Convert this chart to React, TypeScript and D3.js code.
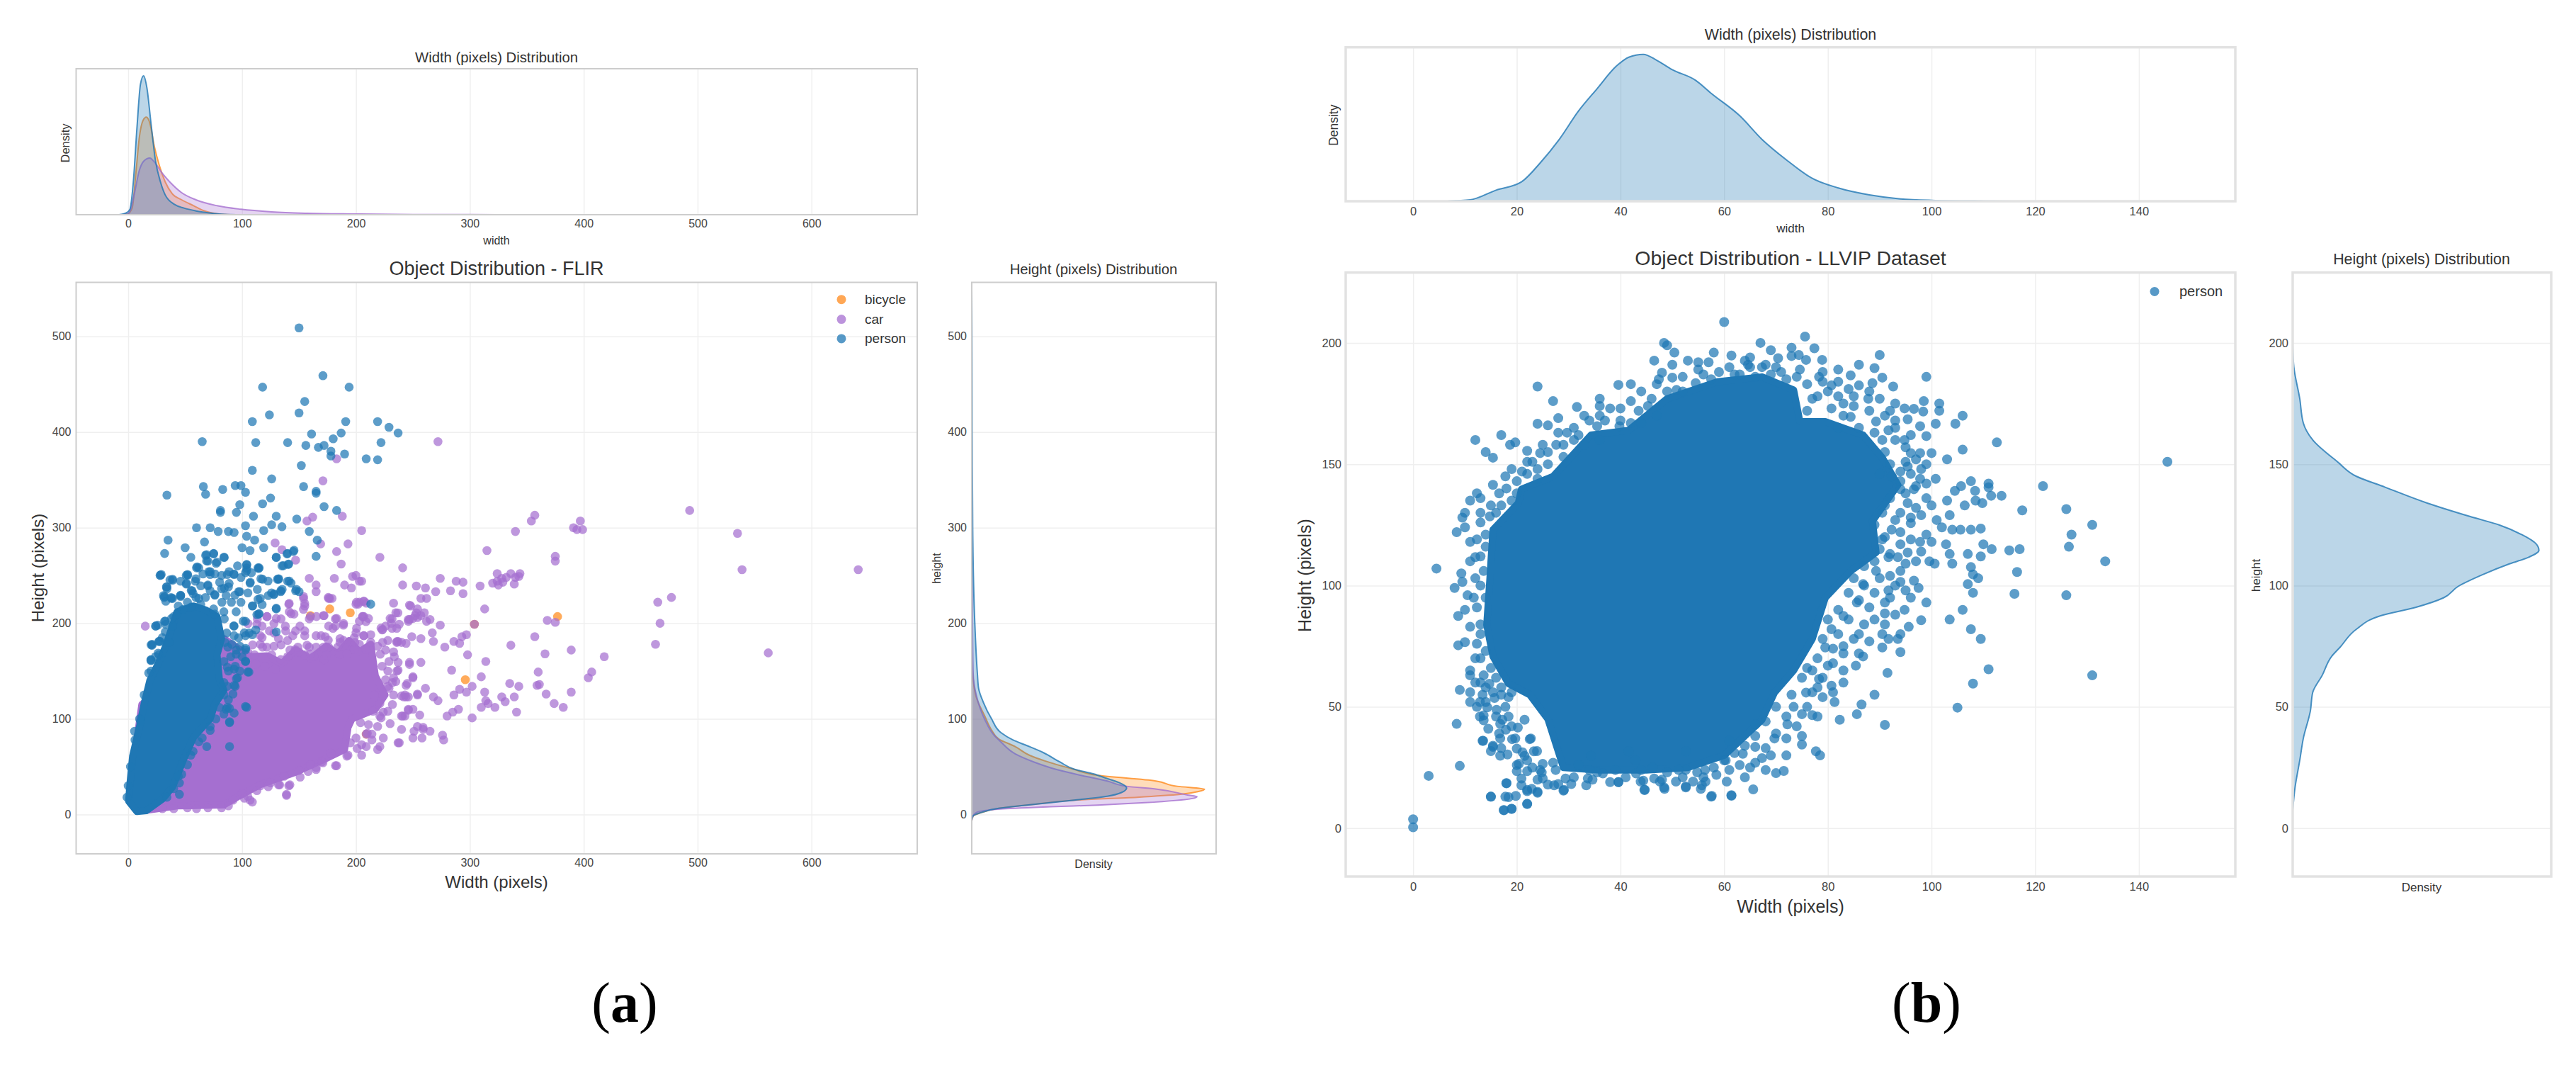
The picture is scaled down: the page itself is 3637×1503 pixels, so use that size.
import { useEffect, useRef } from 'react';
import * as d3 from 'd3';

type Pt = [number, number];

// KDE panels have no density ticks in the picture, so curve heights are in relative units read off the plot.
const flirWidthPerson: Pt[] = [[-8, 0], [-1.7, 8], [1.5, 23], [4.5, 138], [7.7, 368], [10.8, 553], [13.5, 588], [16.4, 538], [20, 388], [24, 228], [28.4, 138], [32.6, 83], [40.9, 43], [49, 28], [59.5, 16], [70, 8], [82, 2], [95, 0]];
const flirWidthBicycle: Pt[] = [[-5, 0], [-0.6, 3], [3.5, 28], [6.6, 168], [9.8, 328], [12.9, 398], [16, 413], [19, 388], [23, 288], [27.4, 208], [32.6, 138], [38.8, 88], [47, 63], [57.5, 38], [66, 18], [78, 4], [90, 0]];
const flirWidthCar: Pt[] = [[-6, 0], [-0.6, 3], [2.5, 28], [5.6, 93], [9.8, 188], [13.9, 228], [19, 240], [23, 223], [29.5, 178], [36.7, 138], [47, 93], [59.5, 63], [78, 38], [99, 23], [126, 12], [157, 6], [198, 3], [250, 1], [300, 0.5], [350, 0]];

const flirHeightBicycle: Pt[] = [[-6.6, 0], [-1.7, 6], [2, 40], [6.4, 114], [10.5, 260], [15, 440], [18, 700], [21, 884], [24, 960], [26.5, 986], [29.5, 870], [35, 780], [41, 530], [47.4, 430], [56, 310], [62, 244], [71, 184], [79, 114], [88, 85], [103, 55], [122, 20], [137, 8], [170, 0]];
const flirHeightCar: Pt[] = [[-6.6, 0], [-1.7, 5], [2, 20], [5.6, 120], [8, 334], [9.8, 534], [12.3, 734], [16.7, 934], [18.7, 954], [20.4, 914], [26.5, 784], [29.5, 656], [35, 574], [42.5, 434], [47.4, 354], [54.8, 264], [63.4, 184], [75.7, 124], [83, 94], [100, 54], [125, 19], [147, 6], [200, 3], [300, 1], [400, 0]];
const flirHeightPerson: Pt[] = [[-6.6, 0], [-1.7, 5], [2, 40], [6.4, 114], [9.8, 234], [15, 434], [19, 574], [22.9, 634], [27.8, 656], [33.4, 624], [37.6, 574], [42.5, 514], [47.4, 434], [54.8, 374], [64.6, 304], [72, 234], [78, 174], [85.5, 124], [100, 84], [117.4, 49], [132, 29], [147, 24], [200, 13], [300, 4], [400, 2], [500, 1], [550, 0]];

const llvipWidth: Pt[] = [[6.8, 1], [11, 6], [16, 47], [20.9, 82], [24.5, 162], [28.2, 262], [31.9, 382], [35.5, 477], [39.2, 572], [41.6, 610], [44.4, 622], [47, 597], [50, 557], [54.5, 512], [57.5, 457], [63, 362], [67.3, 262], [72.2, 172], [77, 97], [81.9, 57], [88, 27], [94, 10], [100, 4], [110, 1], [120, 0]];
const llvipHeight: Pt[] = [[7.4, 0], [16.8, 10], [28, 30], [37, 45], [48.4, 75], [56, 85], [63, 125], [70.8, 165], [74.5, 200], [82, 270], [87.5, 370], [91, 520], [95, 640], [99.6, 700], [104.3, 800], [109, 920], [111.7, 1000], [114.5, 1043], [117.3, 1030], [121, 970], [124.8, 880], [128.5, 750], [134, 570], [140.6, 390], [145, 270], [151, 190], [160, 85], [167, 45], [177, 30], [190, 5], [199, 0]];

const flirPersonCore: Pt[] = [[7.7, 3], [0.4, 14], [1.5, 31], [3.9, 61], [9.8, 91], [13.9, 115], [19, 140], [26, 157], [32.6, 175], [43, 212], [57.5, 218], [67.8, 214], [78, 207], [82, 184], [78, 167], [80, 142], [84, 130], [76, 115], [72, 100], [57.5, 81], [49, 58.5], [39, 29], [30.5, 16.5], [16, 4]];
const flirCarCore: Pt[] = [[14, 4], [43, 9], [84, 10], [97, 19], [115.6, 31], [146.7, 44], [173.7, 58.5], [190, 68], [193, 91], [196.5, 100], [217, 110], [225.5, 125], [217, 145], [213, 178], [203, 170], [194, 182], [184, 168], [174, 176], [160, 163], [147, 172], [135, 158], [122, 166], [107, 165], [84, 184], [12, 115], [5.6, 61], [2.5, 11.6]];
const llvipPersonCore: Pt[] = [[14.2, 83.8], [14.8, 102.4], [15.4, 123], [20.3, 134], [20.9, 139.7], [27, 145], [34.3, 162], [41.6, 164], [49, 177], [58.7, 184], [67.3, 186], [73.4, 180.6], [74.6, 167.6], [79.5, 167.6], [86.8, 162], [90.5, 152.7], [93.5, 141.5], [88.6, 126.6], [89.3, 113.6], [84.4, 106], [79.5, 95], [77, 78], [73.4, 65], [69.7, 55.9], [67.3, 44.7], [60, 30], [53, 25], [45, 24], [36, 24], [29, 25], [26, 45], [22.5, 55], [18.4, 59.6], [15.4, 70.8]];

const flirBicycle: Pt[] = [[177, 215], [195, 211], [377, 207], [296, 141], [304, 199], [209, 84], [160, 208], [88, 127], [40, 177], [10, 88], [31, 8]];

const flirCar: Pt[] = [
  [272, 390], [183, 372], [171, 349], [493, 318], [357, 313], [354, 307], [397, 307], [391, 300], [394, 298], [399, 298], [340, 296], [535, 294], [205, 297], [157, 307], [162, 311], [188, 312],
  [129, 284], [169, 283], [193, 283], [183, 275], [315, 276], [375, 270], [375, 265], [221, 269], [147, 266], [135, 277], [187, 262], [241, 258], [539, 256], [641, 256], [324, 252], [336, 252], [344, 252],
  [320, 242], [324, 244], [328, 247], [332, 248], [329, 243], [325, 240], [340, 248], [343, 249], [339, 241], [309, 239], [274, 247], [288, 244], [294, 243], [283, 234], [294, 231], [261, 237], [253, 239], [241, 240], [270, 233],
  [313, 215], [477, 227], [465, 222], [467, 200], [463, 178], [562, 169], [418, 165], [404, 143], [407, 149], [389, 172], [366, 168], [357, 186], [336, 177], [368, 203], [375, 201], [314, 160], [298, 167], [284, 151], [310, 144], [360, 149],
  [335, 137], [343, 134], [359, 135], [361, 136], [367, 126], [389, 128], [374, 116], [382, 112], [341, 107], [339, 123], [328, 123], [331, 118], [313, 128], [302, 134], [297, 128], [291, 131], [286, 125], [268, 123], [272, 119], [261, 132],
  [250, 143], [244, 135], [246, 123], [242, 123], [254, 125], [290, 110], [285, 107], [280, 103], [302, 101], [316, 116], [310, 112], [322, 112], [314, 119], [277, 78], [276, 83], [238, 75], [254, 92], [259, 89], [265, 87], [250, 80], [258, 80],
  [243, 103], [241, 103], [246, 110], [250, 110], [233, 125], [243, 125], [235, 139], [229, 132], [257, 159], [247, 159], [236, 150], [237, 159], [233, 170], [244, 179], [236, 181], [249, 186], [257, 184], [262, 202], [274, 198], [267, 190], [268, 181], [278, 175], [286, 181], [293, 186], [297, 188], [291, 179],
  [254, 206], [246, 202], [250, 205], [257, 208], [260, 211], [253, 211], [247, 204], [265, 204], [233, 221], [247, 219], [254, 215], [262, 226], [257, 226], [235, 211], [230, 205], [222, 195], [226, 197], [203, 202], [209, 221], [203, 222], [200, 220], [206, 207], [211, 205],
  [197, 249], [203, 244], [190, 240], [196, 237], [181, 247], [159, 247], [165, 240], [165, 233], [177, 226], [216, 125], [221, 116], [224, 107], [215, 108], [222, 101], [211, 94], [204, 96], [219, 92], [224, 80], [214, 78], [221, 71], [209, 71], [201, 69], [193, 62], [182, 51], [165, 49], [171, 54], [158, 45], [139, 21], [142, 31], [133, 31], [107, 15], [102, 17],
  [200, 250], [205, 244], [176, 226], [179, 226], [154, 226], [155, 218], [141, 220], [143, 210], [160, 207], [172, 208], [183, 205], [189, 198], [207, 207], [202, 220], [207, 223], [248, 218], [238, 199], [223, 193], [231, 200], [246, 204], [252, 208], [237, 181], [228, 182], [223, 155], [237, 151], [247, 157], [250, 144], [226, 141], [232, 138], [245, 137], [254, 126], [244, 123], [240, 124], [228, 134], [221, 103], [240, 103], [246, 109], [256, 104], [240, 89], [251, 87], [259, 91], [237, 75], [219, 68], [205, 62], [192, 61], [183, 51], [165, 47], [151, 39], [141, 30], [132, 31], [123, 29], [139, 20], [116, 30], [109, 13], [105, 19], [82, 7], [52, 7], [21, 7],
  [113, 199], [122, 207], [130, 205], [138, 197], [147, 192], [155, 192], [165, 187], [173, 186], [182, 197], [189, 182], [199, 180], [207, 187], [116, 187], [124, 192], [132, 184], [140, 182], [149, 175], [157, 177], [165, 175], [176, 175], [118, 175], [126, 167], [134, 162], [140, 165], [111, 167], [155, 167], [163, 165], [174, 167], [186, 184], [176, 197], [304, 199], [209, 84], [15, 197], [17, 121], [8, 70],
  [200.5, 222], [206.8, 223], [175.7, 227], [153.9, 228], [155, 220.7], [153.9, 214.5], [141.4, 220.7], [141.4, 212], [145.6, 209.6], [121.7, 207], [113.4, 204.6], [105.1, 199.7], [117.6, 197], [128, 199.7], [134.2, 204.6], [138.3, 192], [150.8, 197], [159, 204.6], [165.3, 207], [171.5, 208], [181.9, 204.6], [189.1, 199.7], [179.8, 194.7], [169.4, 187], [155, 187], [144.5, 187], [128, 189.8], [117.6, 185], [175.7, 182.4], [186, 180], [198.5, 185], [206.8, 187], [223.4, 193.5], [231.7, 204.6], [236.8, 210.8], [205.7, 207], [208.8, 201.7], [200.5, 194.7], [213, 180], [223.4, 180], [235.8, 180], [109.3, 177.4], [121.7, 175], [134.2, 177.4], [146.6, 172.5], [159, 175], [171.5, 175], [186, 167.6], [198.5, 172.5], [208.8, 172.5], [221.3, 167.6], [233.7, 165], [240, 180], [231.7, 194.7], [235.8, 194.7],
  [200, 190], [213, 188], [219, 176], [226, 172], [229, 160], [228, 150], [233, 143], [232, 115], [228, 108], [230, 95], [210, 85], [200, 80], [205, 73], [214, 84], [195, 75], [178, 64], [170, 55], [160, 52], [150, 46], [137, 40], [125, 33], [113, 25], [100, 22], [92, 15], [88, 9], [70, 7], [60, 6], [40, 6], [30, 6], [120, 155], [129, 152], [150, 170], [160, 168], [172, 162], [184, 175], [192, 168], [203, 178], [112, 157], [105, 170], [116, 178], [128, 176], [142, 172],
];

const flirPerson: Pt[] = [
  [150, 509], [171, 459], [118, 447], [194, 447], [155, 432], [150, 420], [124, 418], [109, 411], [191, 411], [219, 411], [229, 405], [237, 399], [187, 399], [180, 393], [161, 398], [65, 390], [112, 389], [140, 389], [156, 386], [167, 384], [172, 386], [222, 389], [178, 380], [178, 375], [190, 377], [209, 372], [219, 371], [152, 365], [109, 360], [126, 351],
  [66, 343], [94, 344], [99, 344], [154, 343], [83, 340], [103, 337], [34, 334], [68, 335], [165, 338], [165, 336], [125, 331], [118, 325], [98, 324], [172, 322], [81, 318], [81, 316], [95, 316], [183, 318], [110, 312], [130, 312], [148, 309], [103, 302], [60, 300], [72, 300], [126, 303], [135, 301], [119, 297], [159, 296], [79, 296], [88, 296], [93, 295],
  [104, 291], [111, 287], [35, 287], [67, 285], [166, 287], [50, 279], [100, 279], [107, 276], [119, 279], [32, 273], [55, 269], [68, 271], [75, 273], [84, 269], [130, 269], [140, 273], [145, 275], [165, 270], [60, 258], [70, 265], [78, 264], [96, 260], [104, 261], [114, 258], [135, 260], [141, 262],
  [29, 251], [52, 251], [72, 251], [87, 251], [103, 253], [39, 246], [34, 238], [46, 244], [59, 244], [70, 240], [88, 238], [118, 246], [131, 246], [140, 244], [31, 229], [39, 226], [46, 229], [57, 231], [76, 230], [86, 229], [114, 225], [123, 229], [134, 233], [150, 233], [213, 220],
  [26, 198], [32, 202], [40, 207], [115, 210], [130, 191], [112, 193], [102, 190], [21, 178], [28, 181], [20, 162], [20, 150], [103, 113], [89, 111], [89, 97], [89, 71], [93, 106], [86, 110], [106, 149], [103, 160], [94, 155], [96, 143], [94, 134], [87, 134],
  [28, 250], [34, 236], [39, 245], [51, 250], [51, 241], [62, 258], [72, 254], [82, 250], [93, 251], [104, 255], [115, 258], [107, 242], [132, 246], [143, 242], [147, 234], [134, 234], [128, 230], [116, 226], [109, 218], [97, 233], [82, 236], [72, 234], [62, 226], [56, 234], [32, 228], [38, 226], [46, 228], [33, 223], [130, 215], [113, 209],
  [103, 202], [93, 197], [24, 197], [33, 199], [39, 197], [21, 177], [27, 181], [36, 180], [20, 161], [27, 167], [105, 149], [95, 142], [93, 152], [87, 154], [103, 172], [95, 172], [93, 187], [103, 187], [109, 188], [87, 112], [104, 112], [89, 96], [72, 88], [65, 80], [69, 71], [57, 66], [84, 138], [93, 135], [47, 42], [45, 33], [45, 21], [5.6, 87], [11, 97],
  [77.2, 262.7], [70.9, 254], [76.1, 251.6], [65.7, 251.6], [59.5, 246.6], [52.3, 250.3], [51.2, 241.7], [55.4, 234.3], [63.7, 239.2], [69.9, 239.2], [80.3, 242.9], [88.6, 241.7], [92.7, 251.6], [99, 247.9], [104.1, 257.8], [107.2, 242.9], [116.5, 246.6], [122.8, 244.2], [132.1, 246.6], [141.4, 244.2], [147.7, 235.5], [135.2, 235.5], [128, 230.6], [113.4, 235.5], [105.1, 231.8], [97.9, 233], [93.7, 229.3], [84.4, 236.8], [76.1, 229.3], [67.8, 226.9], [59.5, 226.9], [82.3, 221.9], [90.6, 221.9], [99, 221.9], [109.3, 218.2], [117.6, 219.5], [130, 215.7], [114.5, 209.6], [94.8, 212], [101, 202.2], [92.7, 197.2], [106.2, 189.8], [96.9, 184.9], [87.5, 175], [103.1, 173.7], [94.8, 167.6], [103.1, 160.2], [86.5, 189.8], [84.4, 204.6], [76.1, 209.6],
  [42.9, 209.6], [48.1, 214.5], [55.4, 217], [63.7, 219.5], [32.6, 202.2], [24.3, 197.2], [32.6, 191], [20.1, 177.4], [27.4, 181.2], [35.7, 180], [26.3, 168.8], [20.1, 161.4], [31.5, 226.9], [37.7, 226.9], [46, 229.3], [33.6, 238], [36.7, 245.4], [28.4, 250.3], [60.5, 259], [68.8, 265.2], [84.4, 268.9], [75.1, 272.6], [68.8, 271.8], [88.6, 254], [104.1, 261.5], [114.5, 257.3], [108.2, 252.8], [125.9, 231.8], [140.4, 261.5], [136.3, 260.2], [130, 268.9], [139.4, 272.6], [145.6, 276.3],
  [84, 160], [88, 150], [90, 165], [85, 180], [91, 178], [98, 176], [100, 165], [98, 150], [84, 125], [88, 120], [92, 126], [80, 112], [84, 105], [77, 100], [72, 92], [62, 76], [55, 62], [52, 52], [44, 40], [40, 27], [34, 18], [2, 50], [0, 30], [-1, 18], [6, 78], [10, 100], [14, 125], [18, 148], [24, 165], [30, 185], [38, 205], [44, 218], [52, 222], [75, 215], [84, 212],
];

const llvipPerson: Pt[] = [
  [145.5, 151], [131, 125], [133.5, 110], [131, 63], [126, 131.5], [127, 121], [126.5, 116], [126, 96], [121.5, 141], [117.5, 131], [117, 115], [115, 114.5], [116.5, 105.6], [116, 96.6], [112.6, 159], [113.5, 137], [111, 65.5], [108, 59.6], [105, 49.7], [91, 42.6], [106, 170], [104.6, 166.7], [106, 156], [101.5, 175], [101.5, 172], [98.5, 176], [99, 186], [100.8, 166.7], [103, 152], [100.8, 144],
  [107.6, 143], [111, 142], [111, 140.5], [111.5, 137], [108.4, 139], [105.7, 141], [104.5, 139], [103, 135], [106.4, 133], [103.5, 129], [108.5, 135], [109.8, 134], [102, 124], [104, 123], [105.6, 123], [107.6, 123], [109.5, 123.5], [102.8, 117], [103.5, 113], [107, 113], [109.5, 112], [110, 117], [111.6, 115], [99.6, 110], [100.6, 109], [104, 109], [107.6, 107.6], [108, 104.6], [109, 103], [107, 100.6], [108, 97], [106, 90], [103.5, 86], [107.6, 82], [109.5, 78],
  [99, 93], [98, 85.7], [95.6, 83], [94, 80], [93.5, 78], [94, 72.6], [91.7, 78], [90.5, 74.5], [91.5, 64], [89, 55], [86.5, 51], [85.6, 47], [97.5, 99], [96.6, 102], [94, 101.5], [91.7, 98], [96, 95], [94.8, 90], [91, 88.5], [90.5, 80], [86.8, 70.8], [85.4, 67], [83, 65], [80.7, 58.7], [81.3, 52], [82.3, 44.7], [75, 34.5], [77.7, 31.7], [78.5, 30], [71.5, 23.6], [70, 22.7], [65.6, 16], [61.4, 13.4], [57.5, 13], [55.7, 17.7], [52.6, 16.8], [48.4, 16.8], [44.7, 15.8], [44.4, 19.6], [39.6, 19], [33.7, 20.5], [29, 15.5], [27.2, 17.7], [24, 15], [22, 10], [19, 8], [17.5, 7.4], [17.8, 13], [15, 13], [18, 18.6], [22, 15.8],
  [9, 25.7], [3, 21.6], [0, 3.7], [0, 0.4], [4.5, 107], [8.4, 43], [9, 57], [11, 52], [13.5, 36], [8.7, 75.4], [10, 76.7], [8.7, 87.5], [8, 99], [9.3, 105], [9.5, 101.5], [10.5, 96], [8.4, 122], [10, 124], [9.5, 128], [10, 130], [11, 135], [12.3, 138], [13, 136], [12, 160], [17, 162], [14, 155], [15.4, 152.7], [18.7, 158], [19.7, 159], [22, 155.5], [24, 182], [27, 176], [24, 166.7], [26, 166], [28, 169], [29.7, 163], [31.6, 173.6], [36, 177], [36, 174], [39.6, 182.7], [46.5, 192.7], [47.4, 185], [48, 187.7], [50, 185.7], [48.4, 200], [49, 199], [50.4, 196], [53, 192.7], [60, 208.6], [61.4, 194.8], [64, 192.7], [64.6, 191], [75.6, 202.6], [77.4, 197.8], [69, 197], [70.4, 193.7], [73, 194.6], [74.4, 195], [75.8, 193], [78.9, 193], [90, 195], [86, 191], [89, 189.6], [82, 189], [84.4, 186.6], [90.5, 185.7], [92.6, 182], [88.6, 183.4], [86, 182.5], [87.8, 177], [93, 175], [94.8, 173], [96.6, 172.8], [98.4, 171.7], [95.4, 168.5], [97.8, 165.7], [96, 162], [99, 161.6], [94.8, 160], [100, 154.6], [97.8, 154.6], [96, 154.6], [99, 150], [97.8, 144], [96.6, 139.7], [99, 136], [95.4, 134], [97, 132], [94, 130], [96, 125.7], [99, 121], [97.8, 118], [94, 117], [93.5, 111.7], [95.4, 113.6],
  [15.4, 33.5], [16.6, 39], [13.6, 46.5], [17.2, 44.7], [19.7, 37], [21.5, 29.8], [20, 26], [24.5, 24], [17.8, 50], [21.5, 44.7], [22.7, 37], [27, 27], [29.4, 20.5], [25, 20.5], [20.9, 20.5], [23.3, 31.7], [12.3, 50], [15.4, 56], [13.6, 63], [11, 65], [12.3, 76], [11, 63], [13, 84], [12.3, 91], [11.7, 95], [13.6, 106], [12, 111.7], [12.3, 119], [14, 121], [14.8, 128.5], [13, 130], [16, 130], [16.6, 138], [15.4, 141.5], [17.8, 145], [21, 147], [24.5, 154.6], [27.6, 158], [31.9, 162], [35.5, 165.7], [39.8, 165.7], [43.5, 172], [45.3, 174], [50.8, 180.6], [54.5, 183.4], [57.5, 185], [63, 187], [67.3, 190], [71, 188], [74.6, 189], [78.3, 186], [80.7, 182.5], [77, 177], [80.7, 173], [83, 175], [84.4, 169.5], [89.3, 167.6], [91.7, 164], [90.5, 160], [95.4, 149], [92.3, 145], [94, 139.7], [90.5, 130], [92.3, 123], [90.5, 119], [91.7, 111.7], [89.3, 106], [86.8, 100.6], [85.6, 93], [83, 87.5], [80.7, 82], [79.5, 74.5], [77, 65], [78.3, 61.5], [75.8, 55.9], [73.4, 50], [77, 46.6], [72.2, 42.8], [69.7, 37], [66, 33.5], [67.3, 28.9], [63.6, 30.7], [60, 28], [56.3, 24], [52.6, 24], [49, 23], [46.5, 20.5], [42.9, 28], [39, 24], [35.5, 23], [31.9, 26], [34.3, 29.8], [41.6, 31.7], [52.6, 31.7], [61, 36], [66, 42.8],
  [12, 60], [14.7, 59.5], [17, 58], [13.4, 55], [15.7, 53.7], [18.4, 54], [12.9, 52], [14.3, 49.8], [16.1, 48.8], [12.9, 46], [13.6, 44.5], [18.4, 46], [16.8, 43], [14.5, 41], [17.9, 40.6], [20.2, 41.5], [16.8, 37], [19.1, 36.7], [13.4, 36], [15.4, 34], [20, 32.8], [15, 31.8], [16.8, 29.9], [18.2, 30.4], [21.1, 31.3], [23.9, 31.8], [22.5, 36.7], [20.4, 26.5], [20, 23.5], [22, 23.5], [24.8, 23], [25, 26.5], [23, 25], [27.5, 24], [28, 18.2], [29.1, 15.8], [30.5, 18.2], [18, 18.5], [20.9, 17.7], [22.9, 16.2], [24, 14.6], [22, 15.3], [18.4, 12.8], [19.8, 13.3], [22, 10], [17.5, 7.5], [19, 8], [15, 13], [33.4, 17.7], [34.6, 20], [36.6, 22.6], [39.6, 19], [43, 22.6], [43.9, 19.2], [44.6, 15.8], [47.6, 19.2], [48.5, 16.2], [50.7, 19.2], [52.6, 17.2], [54, 19.2], [55.5, 16.2], [57.6, 13.3], [61.4, 13.6], [56.4, 19.2], [60.5, 19.2], [58.5, 22], [60.3, 28], [46.2, 25], [51.2, 24], [54.8, 23],
  [92, 150], [94, 147], [90, 146], [96, 146], [92, 136], [95, 138], [91, 133], [93, 127], [96, 128], [89, 125], [91, 120], [94, 122], [96, 119], [90, 115], [92, 113], [89, 110], [87, 108], [90, 103], [92, 104], [94, 106], [85, 103], [87, 100], [89, 97], [84, 97], [86, 94], [88, 91], [91, 93], [82, 90], [84, 86], [87, 84], [80, 86], [82, 80], [85, 78], [79, 78], [81, 74], [83, 72], [78, 70], [80, 67], [76, 66], [78, 58], [75, 62], [73, 55], [76, 50], [79, 54], [70, 50], [72, 46], [74, 42], [68, 44], [70, 39], [66, 38], [64, 34], [68, 33], [62, 31],
  [17, 133], [19, 135], [18, 140], [20, 143], [22, 146], [19, 148], [24, 148], [23, 151], [26, 150], [29, 153], [26, 155], [29, 158], [33, 158], [31, 165], [34, 168], [37, 168], [36, 160], [40, 168], [42, 167], [44, 167], [47, 170], [46, 177], [49, 180], [52, 180], [56, 187], [59, 188], [61, 190], [65, 190], [69, 187], [72, 185], [76, 183], [80, 180], [78, 178], [76, 172], [83, 170], [82, 165], [86, 165], [89, 163], [91, 155],
  [13, 100], [14, 95], [13, 80], [14, 73], [13, 70], [15, 66], [16, 62], [14, 58], [17, 55], [19, 56], [13, 112], [14, 116], [13, 126], [15, 133], [65, 194], [68, 191], [55, 189], [50, 191], [42, 176], [38, 173], [33, 170], [57, 192], [82, 184], [85, 178], [88, 172], [93, 168], [91, 170],
  [93, 160], [95, 157], [97, 152], [95, 151], [98, 148], [94, 143], [97, 141], [99, 142], [98, 129], [100, 133], [101, 127], [100, 118], [98, 114], [97, 110], [95, 109], [93, 100], [95, 98], [92, 95], [93, 88], [89, 86], [91, 84], [86, 80], [88, 77], [83, 75], [86, 72], [81, 68], [83, 60], [79, 62], [77, 56], [81, 56], [75, 47], [78, 46], [72, 37], [75, 38], [69, 30], [72, 30], [66, 27], [63, 26], [64, 21], [68, 24],
  [44, 180], [42, 183], [47, 183], [52, 186], [55, 192], [58, 196], [62, 187], [66, 186], [70, 190], [74, 186], [79, 184], [82, 178], [85, 174], [79, 188], [73, 198], [67, 200], [84, 181], [88, 180], [90, 177], [92, 172], [93, 165], [40, 173], [36, 170], [31, 160], [28, 163], [25, 158], [22, 151], [24, 144], [20, 138],
  [12, 70], [11, 83], [10, 90], [12, 103], [11, 110], [11, 118], [13, 60], [11, 56], [14, 52], [16, 46], [19, 42], [17, 33], [22, 28], [24, 20], [26, 18], [31, 21], [34, 24], [38, 19], [41, 21], [44, 24], [48, 20], [52, 21], [56, 21], [58, 25], [61, 24], [65, 25],
];

const flirWidthTicks = [0, 100, 200, 300, 400, 500, 600];
const flirHeightTicks = [0, 100, 200, 300, 400, 500];
const llvipWidthTicks = [0, 20, 40, 60, 80, 100, 120, 140];
const llvipHeightTicks = [0, 50, 100, 150, 200];

const BICYCLE = '#ff8a1c';
const CAR = '#a56fd0';
const PERSON = '#1f77b4';
const SANS = '"Liberation Sans", Arial, sans-serif';

type Sel = d3.Selection<SVGGElement, unknown, null, undefined>;
type Box = { left: number; right: number; top: number; bottom: number };
type Look = { spine: string; spineW: number; tick: number; pad: number };

function label(g: Sel, text: string, x: number, y: number, size: number, rotate = false, color = '#333') {
  g.append('text')
    .attr('transform', `translate(${x},${y})${rotate ? ' rotate(-90)' : ''}`)
    .attr('text-anchor', 'middle')
    .attr('dominant-baseline', 'central')
    .attr('font-family', SANS)
    .attr('font-size', size)
    .attr('fill', color)
    .text(text);
}

function xAxis(g: Sel, x: d3.ScaleLinear<number, number>, ticks: number[], b: Box, look: Look) {
  g.append('g').attr('transform', `translate(0,${b.bottom})`)
    .call(d3.axisBottom(x).tickValues(ticks).tickSize(0).tickPadding(look.pad))
    .call((s) => s.select('.domain').remove())
    .call((s) => s.selectAll('text').attr('font-size', look.tick).attr('font-family', SANS).attr('fill', '#444'));
}

function yAxis(g: Sel, y: d3.ScaleLinear<number, number>, ticks: number[], b: Box, look: Look) {
  g.append('g').attr('transform', `translate(${b.left},0)`)
    .call(d3.axisLeft(y).tickValues(ticks).tickSize(0).tickPadding(look.pad))
    .call((s) => s.select('.domain').remove())
    .call((s) => s.selectAll('text').attr('font-size', look.tick).attr('font-family', SANS).attr('fill', '#444'));
}

function xGrid(g: Sel, x: d3.ScaleLinear<number, number>, ticks: number[], b: Box) {
  g.append('g').attr('transform', `translate(0,${b.bottom})`)
    .call(d3.axisBottom(x).tickValues(ticks).tickSize(b.top - b.bottom).tickFormat(() => ''))
    .call((s) => s.select('.domain').remove())
    .call((s) => s.selectAll('line').attr('stroke', '#efefef').attr('stroke-width', 1.5));
}

function yGrid(g: Sel, y: d3.ScaleLinear<number, number>, ticks: number[], b: Box) {
  g.append('g').attr('transform', `translate(${b.left},0)`)
    .call(d3.axisLeft(y).tickValues(ticks).tickSize(b.left - b.right).tickFormat(() => ''))
    .call((s) => s.select('.domain').remove())
    .call((s) => s.selectAll('line').attr('stroke', '#efefef').attr('stroke-width', 1.5));
}

function spines(g: Sel, b: Box, look: Look) {
  g.append('rect')
    .attr('x', b.left).attr('y', b.top)
    .attr('width', b.right - b.left).attr('height', b.bottom - b.top)
    .attr('fill', 'none').attr('stroke', look.spine).attr('stroke-width', look.spineW);
}

// density along x (panel above the scatter)
function widthKde(g: Sel, curves: [Pt[], string][], x: d3.ScaleLinear<number, number>, yMax: number, b: Box) {
  const y = d3.scaleLinear().domain([0, yMax]).range([b.bottom, b.top]);
  const area = d3.area<Pt>().x((d) => x(d[0])).y0(y(0)).y1((d) => y(d[1])).curve(d3.curveMonotoneX);
  const line = d3.line<Pt>().x((d) => x(d[0])).y((d) => y(d[1])).curve(d3.curveMonotoneX);
  for (const [c, color] of curves) {
    g.append('path').attr('d', area(c)).attr('fill', color).attr('fill-opacity', 0.3);
    g.append('path').attr('d', line(c)).attr('fill', 'none').attr('stroke', color).attr('stroke-opacity', 0.8).attr('stroke-width', 2);
  }
}

// density along y (panel right of the scatter)
function heightKde(g: Sel, curves: [Pt[], string][], y: d3.ScaleLinear<number, number>, xMax: number, b: Box) {
  const x = d3.scaleLinear().domain([0, xMax]).range([b.left, b.right]);
  const area = d3.area<Pt>().y((d) => y(d[0])).x0(x(0)).x1((d) => x(d[1])).curve(d3.curveMonotoneY);
  const line = d3.line<Pt>().y((d) => y(d[0])).x((d) => x(d[1])).curve(d3.curveMonotoneY);
  for (const [c, color] of curves) {
    g.append('path').attr('d', area(c)).attr('fill', color).attr('fill-opacity', 0.3);
    g.append('path').attr('d', line(c)).attr('fill', 'none').attr('stroke', color).attr('stroke-opacity', 0.8).attr('stroke-width', 2);
  }
}

function scatter(g: Sel, pts: Pt[], core: Pt[] | null, color: string, r: number, x: d3.ScaleLinear<number, number>, y: d3.ScaleLinear<number, number>) {
  if (core) {
    const outline = d3.line<Pt>().x((d) => x(d[0])).y((d) => y(d[1])).curve(d3.curveLinearClosed);
    g.append('path').attr('d', outline(core)).attr('fill', color)
      .attr('stroke', color).attr('stroke-width', 10).attr('stroke-linejoin', 'round');
  }
  g.append('g').selectAll('circle').data(pts).join('circle')
    .attr('cx', (d) => x(d[0])).attr('cy', (d) => y(d[1])).attr('r', r)
    .attr('fill', color).attr('fill-opacity', 0.72);
}

function legend(g: Sel, names: string[], colors: string[], mx: number, tx: number, ys: number[], size: number) {
  names.forEach((name, i) => {
    g.append('circle').attr('cx', mx).attr('cy', ys[i]).attr('r', 6.5).attr('fill', colors[i]).attr('fill-opacity', 0.75);
    g.append('text').attr('x', tx).attr('y', ys[i]).attr('dominant-baseline', 'central')
      .attr('font-family', SANS).attr('font-size', size).attr('fill', '#333').text(name);
  });
}

function drawFlir(g: Sel) {
  const look: Look = { spine: '#cdcdcd', spineW: 2, tick: 16, pad: 7 };
  const top: Box = { left: 107.5, right: 1295, top: 97, bottom: 303 };
  const main: Box = { left: 107.5, right: 1295, top: 398.5, bottom: 1205 };
  const side: Box = { left: 1372, right: 1717, top: 398.5, bottom: 1205 };
  const x = d3.scaleLinear().domain([-45.7, 692.8]).range([main.left, main.right]);
  const y = d3.scaleLinear().domain([-41.2, 556.6]).range([main.bottom, main.top]);

  xGrid(g, x, flirWidthTicks, top);
  widthKde(g, [[flirWidthBicycle, BICYCLE], [flirWidthCar, CAR], [flirWidthPerson, PERSON]], x, 618, top);
  spines(g, top, look);
  xAxis(g, x, flirWidthTicks, top, look);
  label(g, 'Width (pixels) Distribution', 701, 80.5, 20.3);
  label(g, 'width', 701, 339, 16);
  label(g, 'Density', 92, 202, 16.5, true);

  xGrid(g, x, flirWidthTicks, main);
  yGrid(g, y, flirHeightTicks, main);
  scatter(g, flirBicycle, null, BICYCLE, 6.3, x, y);
  scatter(g, flirCar, flirCarCore, CAR, 6.3, x, y);
  scatter(g, flirPerson, flirPersonCore, PERSON, 6.3, x, y);
  spines(g, main, look);
  xAxis(g, x, flirWidthTicks, main, look);
  yAxis(g, y, flirHeightTicks, main, look);
  label(g, 'Object Distribution - FLIR', 701, 379, 27);
  label(g, 'Width (pixels)', 701, 1244, 24);
  label(g, 'Height (pixels)', 53.5, 801.5, 24, true);
  legend(g, ['bicycle', 'car', 'person'], [BICYCLE, CAR, PERSON], 1188, 1221, [422.7, 450.6, 477.9], 19);

  yGrid(g, y, flirHeightTicks, side);
  heightKde(g, [[flirHeightBicycle, BICYCLE], [flirHeightCar, CAR], [flirHeightPerson, PERSON]], y, 1035, side);
  spines(g, side, look);
  yAxis(g, y, flirHeightTicks, side, look);
  label(g, 'Height (pixels) Distribution', 1544, 380, 20.3);
  label(g, 'Density', 1544, 1219, 16);
  label(g, 'height', 1322, 802, 16, true);
}

function drawLlvip(g: Sel) {
  const look: Look = { spine: '#e2e2e2', spineW: 3.5, tick: 16.5, pad: 8 };
  const top: Box = { left: 1900, right: 3156, top: 66.7, bottom: 284 };
  const main: Box = { left: 1900, right: 3156, top: 384.6, bottom: 1237 };
  const side: Box = { left: 3237, right: 3602, top: 384.6, bottom: 1237 };
  const x = d3.scaleLinear().domain([-13, 158.6]).range([main.left, main.right]);
  const y = d3.scaleLinear().domain([-19.9, 229]).range([main.bottom, main.top]);

  xGrid(g, x, llvipWidthTicks, top);
  widthKde(g, [[llvipWidth, PERSON]], x, 652, top);
  spines(g, top, look);
  xAxis(g, x, llvipWidthTicks, top, look);
  label(g, 'Width (pixels) Distribution', 2528, 49, 21.4);
  label(g, 'width', 2528, 322.7, 17);
  label(g, 'Density', 1883, 176.7, 17.5, true);

  xGrid(g, x, llvipWidthTicks, main);
  yGrid(g, y, llvipHeightTicks, main);
  scatter(g, llvipPerson, llvipPersonCore, PERSON, 7, x, y);
  spines(g, main, look);
  xAxis(g, x, llvipWidthTicks, main, look);
  yAxis(g, y, llvipHeightTicks, main, { ...look, pad: 6 });
  label(g, 'Object Distribution - LLVIP Dataset', 2528, 364, 28.5);
  label(g, 'Width (pixels)', 2528, 1279, 25);
  label(g, 'Height (pixels)', 1842, 812, 25, true);
  legend(g, ['person'], [PERSON], 3042, 3077, [411.4], 20);

  yGrid(g, y, llvipHeightTicks, side);
  heightKde(g, [[llvipHeight, PERSON]], y, 1095, side);
  spines(g, side, look);
  yAxis(g, y, llvipHeightTicks, side, { ...look, pad: 6 });
  label(g, 'Height (pixels) Distribution', 3419, 365.5, 21.4);
  label(g, 'Density', 3419, 1252, 17);
  label(g, 'height', 3185, 812, 17, true);
}

function caption(g: Sel, letter: string, x: number) {
  const t = g.append('text').attr('x', x).attr('y', 1442).attr('text-anchor', 'middle')
    .attr('font-family', '"Liberation Serif", serif').attr('font-size', 80).attr('fill', '#000');
  t.append('tspan').text('(');
  t.append('tspan').attr('font-weight', 'bold').text(letter);
  t.append('tspan').text(')');
}

export default function App() {
  const ref = useRef<SVGSVGElement | null>(null);

  useEffect(() => {
    const svg = d3.select(ref.current);
    svg.selectAll('*').remove();
    const root = svg.append('g') as unknown as Sel;
    drawFlir(root);
    drawLlvip(root);
    caption(root, 'a', 882);
    caption(root, 'b', 2720);
  }, []);

  return (
    <svg
      ref={ref}
      width={3637}
      height={1503}
      viewBox="0 0 3637 1503"
      style={{ position: 'absolute', left: 0, top: 0, background: '#fff' }}
    />
  );
}
